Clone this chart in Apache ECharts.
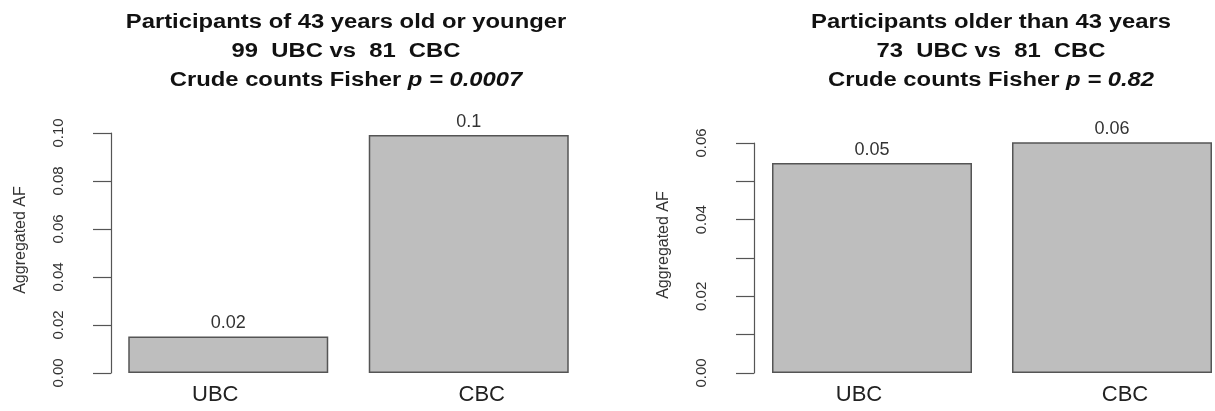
<!DOCTYPE html>
<html>
<head>
<meta charset="utf-8">
<script src="https://cdn.jsdelivr.net/npm/echarts@6/dist/echarts.min.js"></script>
<style>
  html, body { margin: 0; padding: 0; background: #fff; }
  #chart { width: 1215px; height: 411px; }
</style>
</head>
<body>
<div id="chart"></div>
<script>
// Aggregated allele frequency by group, split by age
const groups = ['UBC', 'CBC'];
const youngAF = [0.0152, 0.0992];
const olderAF = [0.0548, 0.0616];

const youngTitle = ['Participants of 43 years old or younger', '99  UBC vs  81  CBC'];
const olderTitle = ['Participants older than 43 years', '73  UBC vs  81  CBC'];
const youngP = '0.0007';
const olderP = '0.82';

const youngTicks = { max: 0.1, step: 0.02, labelEvery: 1 };
const olderTicks = { max: 0.06, step: 0.01, labelEvery: 2 };

const FONT = '"Liberation Sans", Arial, Helvetica, sans-serif';
const chart = echarts.init(document.getElementById('chart'));

function valueLabel(p) {
  return String(parseFloat(p.value.toFixed(2)));
}

function yAxis(idx, ticks, offset) {
  return {
    type: 'value',
    gridIndex: idx,
    min: 0,
    max: ticks.max,
    interval: ticks.step,
    offset: offset,
    name: 'Aggregated AF',
    nameLocation: 'middle',
    nameGap: 82,
    nameRotate: 90,
    nameTextStyle: { fontFamily: FONT, fontSize: 16, color: '#333', padding: [0, 0, 0, 26] },
    axisLine: { show: true, lineStyle: { color: '#555', width: 1.2 } },
    axisTick: { show: true, length: 18, lineStyle: { color: '#555', width: 1.2 } },
    splitLine: { show: false },
    axisLabel: {
      rotate: 90,
      margin: 45,
      fontFamily: FONT,
      fontSize: 15,
      color: '#333',
      formatter: function (v) {
        const k = Math.round(v / ticks.step);
        return k % ticks.labelEvery === 0 ? v.toFixed(2) : '';
      }
    }
  };
}

function xAxis(idx) {
  return {
    type: 'category',
    gridIndex: idx,
    data: groups,
    axisLine: { show: false },
    axisTick: { show: false },
    axisLabel: {
      margin: 11,
      fontFamily: FONT,
      fontSize: 22,
      color: '#222',
      formatter: function (v) { return v === groups[0] ? '{a|' + v + '}' : '{b|' + v + '}'; },
      rich: {
        a: { fontFamily: FONT, fontSize: 22, color: '#222', padding: [0, 26, 0, 0] },
        b: { fontFamily: FONT, fontSize: 22, color: '#222', padding: [0, 0, 0, 26] }
      }
    }
  };
}

function bars(idx, data) {
  return {
    type: 'bar',
    xAxisIndex: idx,
    yAxisIndex: idx,
    data: data,
    barWidth: 200,
    itemStyle: { color: '#bebebe', borderColor: '#555', borderWidth: 1.5 },
    label: {
      show: true,
      position: 'top',
      distance: 4,
      fontFamily: FONT,
      fontSize: 18,
      color: '#333',
      formatter: valueLabel
    },
    silent: true
  };
}

// Three centred title lines; the glyphs are drawn slightly wide
function titleLines(cx, lines, p) {
  const base = { fontFamily: FONT, fontWeight: 'bold', fontSize: 20, fill: '#111' };
  const out = lines.map(function (t, i) {
    return {
      type: 'text', x: cx, y: 22 + i * 29, scaleX: 1.19,
      style: Object.assign({ text: t, textAlign: 'center', textVerticalAlign: 'middle' }, base)
    };
  });
  out.push({
    type: 'text', x: cx, y: 80, scaleX: 1.19,
    style: Object.assign({
      text: '{n|Crude counts Fisher }{i|p = ' + p + '}',
      textAlign: 'center', textVerticalAlign: 'middle',
      rich: {
        n: { fontFamily: FONT, fontWeight: 'bold', fontSize: 20, color: '#111' },
        i: { fontFamily: FONT, fontWeight: 'bold', fontStyle: 'italic', fontSize: 20, color: '#111' }
      }
    }, base)
  });
  return out;
}

chart.setOption({
  animation: false,
  backgroundColor: '#ffffff',
  grid: [
    { left: 108, top: 133, width: 481, height: 240, outerBoundsMode: 'none', containLabel: false },
    { left: 752, top: 143, width: 480, height: 230, outerBoundsMode: 'none', containLabel: false }
  ],
  xAxis: [xAxis(0), xAxis(1)],
  yAxis: [yAxis(0, youngTicks, -3), yAxis(1, olderTicks, -2)],
  series: [bars(0, youngAF), bars(1, olderAF)],
  graphic: titleLines(346, youngTitle, youngP).concat(titleLines(991, olderTitle, olderP))
});
</script>
</body>
</html>
